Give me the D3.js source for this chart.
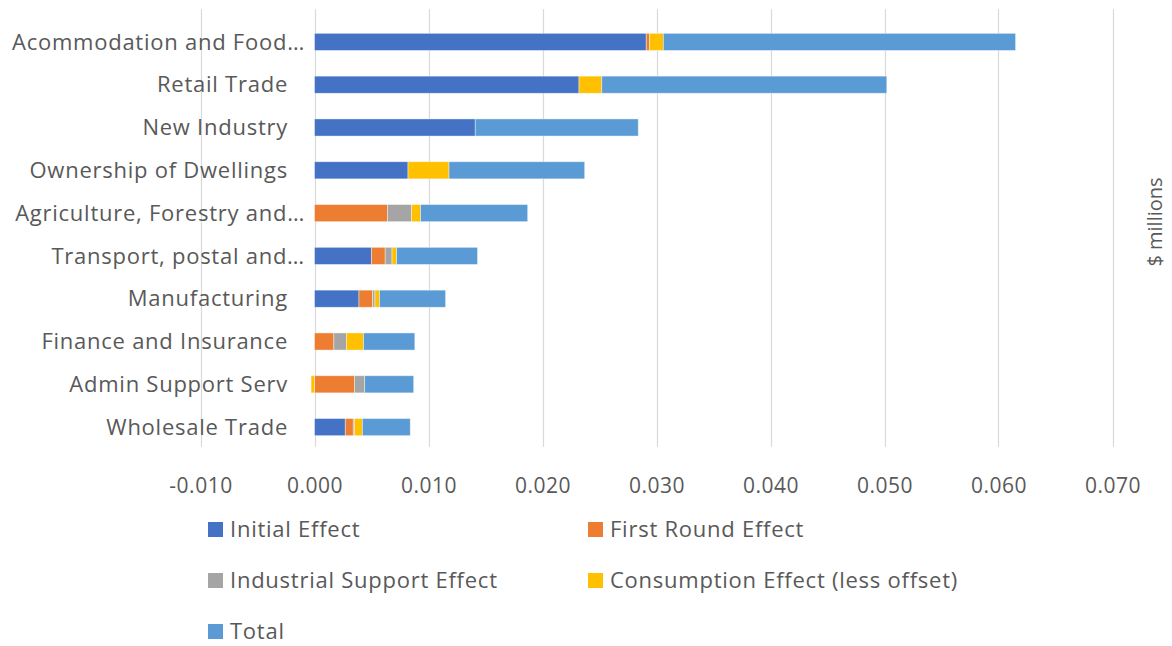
<!DOCTYPE html>
<html>
<head>
<meta charset="utf-8">
<script src="https://cdn.jsdelivr.net/npm/d3@7"></script>
<style>
  html, body { margin: 0; padding: 0; background: #fff; }
  svg { display: block; }
  text { font-family: "Open Sans", Lato, sans-serif; fill: #595959; letter-spacing: 0.75px; }
</style>
</head>
<body>
<svg id="chart" width="1172" height="646"></svg>
<script>
const categories = [
  "Acommodation and Food\u2026",
  "Retail Trade",
  "New Industry",
  "Ownership of Dwellings",
  "Agriculture, Forestry and\u2026",
  "Transport, postal and\u2026",
  "Manufacturing",
  "Finance and Insurance",
  "Admin Support Serv",
  "Wholesale Trade"
];
const seriesNames = ["Initial Effect", "First Round Effect", "Industrial Support Effect", "Consumption Effect (less offset)", "Total"];
const initialEffect     = [0.0291, 0.0232, 0.0141, 0.0082, 0.0000, 0.0050, 0.0039, 0.0000, 0.0000, 0.0027];
const firstRoundEffect  = [0.0003, 0.0000, 0.0000, 0.0000, 0.0064, 0.0012, 0.0012, 0.0017, 0.0035, 0.0007];
const industrialSupport = [0.0000, 0.0000, 0.0000, 0.0000, 0.0021, 0.0006, 0.0002, 0.0011, 0.0009, 0.0001];
const consumptionEffect = [0.0012, 0.0020, 0.0000, 0.0036, 0.0008, 0.0004, 0.0004, 0.0015, -0.0003, 0.0007];
const totalEffect       = [0.0309, 0.0250, 0.0143, 0.0119, 0.0094, 0.0071, 0.0058, 0.0045, 0.0043, 0.0042];
const xTicks = [-0.01, 0, 0.01, 0.02, 0.03, 0.04, 0.05, 0.06, 0.07];
const colors = ["#4472C4", "#ED7D31", "#A5A5A5", "#FFC000", "#5B9BD5"];

const seriesArrays = [initialEffect, firstRoundEffect, industrialSupport, consumptionEffect, totalEffect];
const rows = categories.map((c, i) => {
  const r = { category: c };
  seriesNames.forEach((s, j) => { r[s] = seriesArrays[j][i]; });
  return r;
});

const svg = d3.select("#chart");
const x = d3.scaleLinear().domain([-0.01, 0.07]).range([200.5, 1112.5]);
const y = d3.scaleBand().domain(categories).range([20.5, 448.5]).paddingInner(0.6).paddingOuter(0.3);

// gridlines
svg.append("g").selectAll("line").data(xTicks).join("line")
  .attr("x1", d => Math.round(x(d)) + 0.5).attr("x2", d => Math.round(x(d)) + 0.5)
  .attr("y1", 9).attr("y2", 447)
  .attr("stroke", "#D9D9D9").attr("stroke-width", 1.2);

// x axis labels
const fmt = d3.format(".3f");
const xAxis = d3.axisBottom(x).tickValues(xTicks).tickFormat(d => fmt(d).replace("\u2212", "-")).tickSize(0).tickPadding(0);
const gx = svg.append("g").attr("transform", "translate(0,478)").call(xAxis);
gx.select(".domain").remove();
gx.selectAll("text").attr("font-size", 21).attr("dy", "0.71em")
  .style("fill", "#595959").style("font-family", "\"Open Sans\", sans-serif").style("letter-spacing", "0.5px");

// stacks
const stack = d3.stack().keys(seriesNames).offset(d3.stackOffsetDiverging);
const stacked = stack(rows);
svg.append("g").selectAll("g").data(stacked).join("g")
  .attr("fill", (d, i) => colors[i])
  .selectAll("rect").data(d => d).join("rect")
  .attr("x", d => x(Math.min(d[0], d[1])))
  .attr("width", d => Math.abs(x(d[1]) - x(d[0])))
  .attr("y", d => y(d.data.category))
  .attr("height", y.bandwidth())
  .attr("stroke", "rgba(255,255,255,0.5)").attr("stroke-width", 0.8);

// category labels
svg.append("g").selectAll("text").data(categories).join("text")
  .attr("x", d => d.endsWith("\u2026") ? 305 : 288)
  .attr("y", d => y(d) + y.bandwidth() / 2)
  .attr("dy", "0.35em")
  .attr("text-anchor", "end")
  .attr("font-size", 22)
  .text(d => d);

// y-axis title on right
svg.append("text")
  .attr("transform", "translate(1162,222) rotate(-90)")
  .attr("text-anchor", "middle")
  .attr("font-size", 20)
  .style("letter-spacing", "0px")
  .text("$ millions");

// legend
const legendPos = [[208, 529], [588, 529], [208, 580], [588, 580], [208, 631]];
const lg = svg.append("g").selectAll("g").data(seriesNames).join("g")
  .attr("transform", (d, i) => `translate(${legendPos[i][0]},${legendPos[i][1]})`);
lg.append("rect").attr("x", 0).attr("y", -7).attr("width", 15).attr("height", 15).attr("fill", (d, i) => colors[i]);
lg.append("text").attr("x", 22).attr("dy", "0.35em").attr("font-size", 22).text(d => d);
</script>
</body>
</html>
